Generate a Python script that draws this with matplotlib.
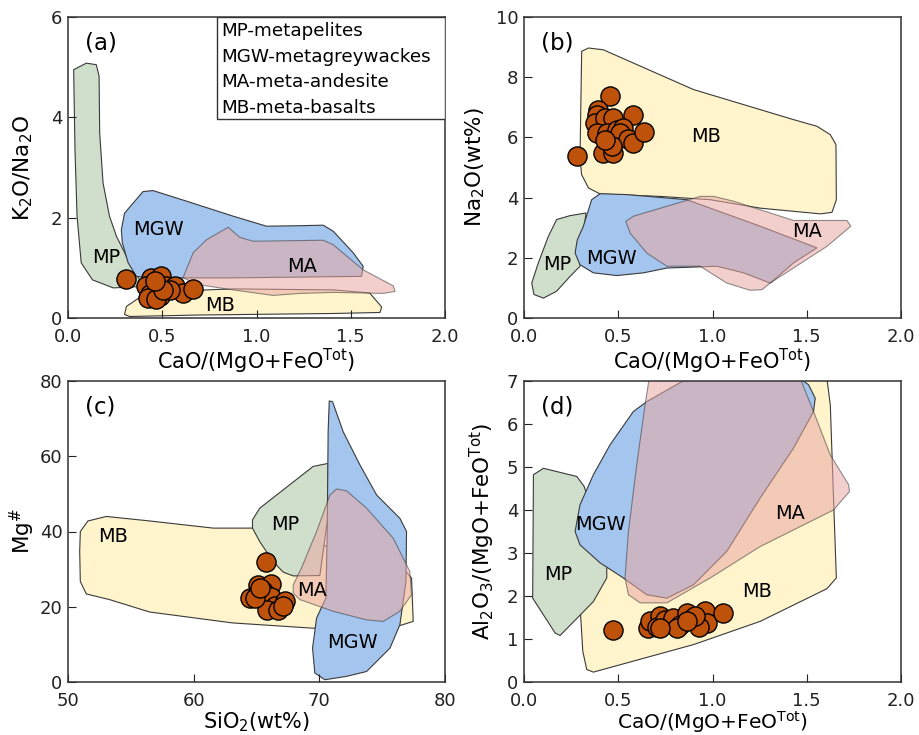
import matplotlib
matplotlib.use("Agg")
import matplotlib.pyplot as plt
from matplotlib.patches import Polygon, Rectangle

plt.rcParams['font.family'] = ['DejaVu Sans']
plt.rcParams['mathtext.fontset'] = 'dejavusans'

# colours of the fields
c_mp = '#cfdfcb'
c_mgw = '#a3c5ee'
c_ma = '#e9a9a3'
c_mb = '#fff4cc'
c_dot = '#bf520a'

# ---- panel (a): CaO/(MgO+FeOt) vs K2O/Na2O ----
a_mp = [(0.03, 4.95), (0.097, 5.08), (0.15, 5.05), (0.165, 4.82), (0.168, 3.69), (0.186, 2.69),
        (0.22, 2.03), (0.257, 1.63), (0.31, 1.23), (0.38, 0.76), (0.40, 0.63), (0.24, 0.60),
        (0.13, 0.76), (0.07, 1.10), (0.048, 2.03), (0.037, 3.36)]
a_mgw = [(0.30, 2.09), (0.398, 2.52), (0.451, 2.54), (0.628, 2.33), (0.876, 2.03), (1.053, 1.83),
         (1.23, 1.84), (1.354, 1.85), (1.407, 1.73), (1.513, 1.30), (1.566, 1.03), (1.557, 0.83),
         (0.876, 0.80), (0.434, 0.80), (0.363, 0.83), (0.319, 1.10), (0.288, 1.50), (0.283, 1.76)]
a_ma = [(0.61, 0.80), (0.664, 1.30), (0.735, 1.56), (0.85, 1.81), (0.91, 1.61), (0.982, 1.53),
        (1.354, 1.55), (1.407, 1.46), (1.566, 0.96), (1.726, 0.64), (1.735, 0.53), (1.673, 0.49),
        (1.407, 0.51), (1.23, 0.49), (1.088, 0.45), (0.876, 0.56), (0.70, 0.66)]
a_mb = [(0.30, 0.07), (0.31, 0.23), (0.38, 0.41), (0.52, 0.53), (0.876, 0.58), (1.407, 0.56),
        (1.60, 0.50), (1.664, 0.22), (1.655, 0.11), (1.407, 0.09), (0.70, 0.06), (0.327, 0.03)]
a_x = [0.31, 0.442, 0.496, 0.451, 0.416, 0.469, 0.434, 0.487, 0.425, 0.469, 0.522, 0.566,
       0.61, 0.664, 0.54, 0.504, 0.46]
a_y = [0.78, 0.80, 0.83, 0.66, 0.63, 0.62, 0.47, 0.43, 0.40, 0.37, 0.63, 0.64,
       0.50, 0.58, 0.56, 0.55, 0.73]

# ---- panel (b): CaO/(MgO+FeOt) vs Na2O ----
b_mb = [(0.306, 8.86), (0.342, 8.97), (0.421, 8.91), (0.899, 7.59), (1.43, 6.59), (1.554, 6.37),
        (1.625, 6.09), (1.655, 5.76), (1.657, 3.93), (1.634, 3.51), (1.572, 3.46), (1.253, 3.65),
        (0.988, 3.93), (0.722, 4.04), (0.404, 4.12), (0.342, 4.32), (0.306, 4.76), (0.297, 5.26)]
b_mp = [(0.173, 3.27), (0.244, 3.40), (0.329, 3.49), (0.315, 2.82), (0.297, 1.72), (0.244, 1.38),
        (0.173, 0.89), (0.103, 0.66), (0.053, 0.78), (0.041, 1.16), (0.076, 1.83), (0.129, 2.71)]
b_mgw = [(0.404, 4.13), (0.545, 4.10), (0.864, 3.93), (1.253, 3.05), (1.554, 2.33), (1.43, 1.83),
         (1.306, 1.16), (1.165, 1.50), (1.023, 1.72), (0.758, 1.66), (0.634, 1.50), (0.492, 1.41),
         (0.368, 1.50), (0.297, 1.77), (0.271, 2.16), (0.283, 2.60), (0.315, 3.05), (0.359, 3.93)]
b_ma = [(0.54, 3.21), (0.58, 3.38), (0.934, 4.04), (1.006, 4.04), (1.112, 3.88), (1.43, 3.24),
        (1.713, 3.24), (1.734, 3.05), (1.607, 2.38), (1.306, 1.16), (1.262, 0.94), (1.20, 0.92),
        (1.076, 1.16), (0.934, 1.72), (0.758, 1.72), (0.651, 2.16), (0.563, 2.82)]
b_x = [0.28, 0.457, 0.395, 0.386, 0.377, 0.43, 0.474, 0.577, 0.386, 0.439, 0.492, 0.527,
       0.51, 0.554, 0.58, 0.634, 0.421, 0.474, 0.466, 0.43]
b_y = [5.39, 7.36, 6.92, 6.76, 6.48, 6.64, 6.64, 6.73, 6.15, 6.15, 6.26, 6.31,
       6.15, 5.95, 5.81, 6.17, 5.48, 5.48, 5.70, 5.92]

# ---- panel (c): SiO2 vs Mg# ----
c_mb_f = [(50.98, 40.0), (51.59, 42.8), (53.05, 44.0), (56.5, 42.8), (61.55, 40.9), (64.73, 40.9),
          (76.4, 31.2), (77.34, 27.6), (77.47, 16.1), (76.41, 15.0), (69.5, 14.3), (63.1, 15.7),
          (56.5, 18.6), (53.3, 21.9), (51.46, 23.4), (50.98, 26.7), (50.93, 34.7)]
c_mp_f = [(64.68, 43.1), (65.26, 46.2), (69.51, 57.3), (70.7, 58.1), (70.7, 44.4), (70.04, 28.3),
          (67.92, 28.2), (67.12, 29.2), (66.33, 32.0), (65.26, 37.3), (64.68, 40.9)]
c_mgw_f = [(70.79, 74.7), (71.05, 74.5), (71.9, 66.5), (73.23, 57.7), (74.56, 49.7), (76.41, 43.5),
           (76.94, 40.0), (76.89, 26.7), (76.41, 15.2), (75.62, 9.0), (73.76, 2.8), (72.17, 1.5),
           (70.44, 0.6), (69.64, 2.4), (69.46, 9.0), (69.78, 17.0), (70.52, 22.3), (70.63, 40.0),
           (70.7, 66.5)]
c_ma_f = [(67.92, 25.8), (68.58, 30.3), (69.78, 40.0), (70.84, 49.7), (71.37, 51.3), (72.17, 50.8),
          (73.76, 46.2), (75.88, 38.2), (77.2, 29.4), (77.34, 23.2), (76.41, 18.8), (75.09, 16.1),
          (73.76, 16.5), (71.1, 18.8), (68.45, 21.9), (67.92, 23.6)]
c_x = [65.72, 65.13, 66.19, 64.47, 65.0, 65.53, 65.8, 66.19, 66.46, 65.8, 66.72, 67.26,
       67.12, 64.87, 65.26]
c_y = [31.8, 25.8, 26.0, 22.3, 23.2, 24.1, 22.3, 22.7, 20.1, 19.2, 19.2, 21.4,
       20.1, 22.3, 25.0]

# ---- panel (d): CaO/(MgO+FeOt) vs Al2O3/(MgO+FeOt) ----
d_mb = [(0.288, 2.42), (0.421, 3.50), (0.722, 5.44), (1.005, 7.14), (1.563, 7.14), (1.607, 7.06),
        (1.625, 6.44), (1.642, 4.28), (1.657, 2.42), (1.607, 2.17), (1.253, 1.41), (0.899, 0.87),
        (0.368, 0.23), (0.333, 0.29), (0.312, 0.71), (0.297, 1.80)]
d_mp = [(0.05, 4.82), (0.103, 4.97), (0.28, 4.78), (0.319, 4.55), (0.386, 3.66), (0.439, 2.80),
        (0.439, 2.42), (0.368, 1.87), (0.191, 1.08), (0.165, 1.14), (0.046, 1.95)]
d_mgw = [(0.271, 3.50), (0.297, 4.12), (0.368, 4.82), (0.457, 5.52), (0.58, 6.29), (0.651, 6.52),
         (0.899, 7.14), (1.43, 7.18), (1.51, 6.91), (1.545, 6.60), (1.536, 6.29), (1.43, 5.44),
         (1.253, 4.28), (1.076, 3.04), (0.899, 2.26), (0.758, 1.95), (0.651, 2.03), (0.527, 2.42),
         (0.404, 2.77), (0.297, 3.19)]
d_ma = [(0.664, 7.06), (1.465, 7.06), (1.536, 6.29), (1.625, 5.28), (1.722, 4.59), (1.727, 4.43),
        (1.642, 4.00), (1.253, 3.15), (0.988, 2.42), (0.758, 1.84), (0.616, 1.84), (0.554, 2.03),
        (0.536, 2.42), (0.554, 3.50), (0.598, 5.05), (0.642, 6.44)]
d_x = [0.471, 0.66, 0.667, 0.722, 0.704, 0.758, 0.75, 0.793, 0.828, 0.864, 0.899, 0.96,
       0.97, 0.926, 1.058, 0.908, 0.81, 0.722, 0.864]
d_y = [1.22, 1.25, 1.41, 1.53, 1.29, 1.41, 1.45, 1.49, 1.33, 1.60, 1.49, 1.65,
       1.37, 1.29, 1.60, 1.53, 1.25, 1.25, 1.41]

legend_lines = ['MP-metapelites', 'MGW-metagreywackes', 'MA-meta-andesite', 'MB-meta-basalts']

fig = plt.figure(figsize=(9.19, 7.35), dpi=100)
W, H = 919, 735
def axbox(l, t, r, b):
    return [l / W, (H - b) / H, (r - l) / W, (b - t) / H]

ax_a = fig.add_axes(axbox(68, 17, 445, 318))
ax_b = fig.add_axes(axbox(524, 17, 901, 318))
ax_c = fig.add_axes(axbox(68, 381, 445, 682))
ax_d = fig.add_axes(axbox(524, 381, 901, 682))

def field(ax, pts, col, alpha=1.0, z=1):
    ax.add_patch(Polygon(pts, closed=True, facecolor=col, edgecolor='#3a3a3a',
                         linewidth=0.8, alpha=alpha, joinstyle='round', zorder=z))

def style(ax, xlim, ylim, xticks, yticks, xlab, ylab, tag, ylab_x, xlab_y=-0.145, xlab_fs=15):
    ax.set_xlim(xlim)
    ax.set_ylim(ylim)
    ax.set_xticks(xticks)
    ax.set_yticks(yticks)
    ax.tick_params(direction='in', length=6, width=0.8, labelsize=13, colors='#222222')
    ax.tick_params(axis='x', pad=7)
    ax.tick_params(axis='y', pad=4)
    for s in ax.spines.values():
        s.set_linewidth(1.1)
        s.set_color('#333333')
    ax.set_xlabel(xlab, fontsize=xlab_fs)
    ax.set_ylabel(ylab, fontsize=15.5)
    ax.xaxis.set_label_coords(0.5, xlab_y)
    ax.xaxis.label.set_va('center')
    ax.yaxis.set_label_coords(ylab_x, 0.5)
    ax.yaxis.label.set_va('center')
    ax.text(0.045, 0.915, tag, transform=ax.transAxes, fontsize=16.5, va='center', ha='left')

def dots(ax, x, y):
    ax.scatter(x, y, s=190, facecolor=c_dot, edgecolor='black', linewidth=1.0, zorder=5)

def labels(ax, items):
    for t, x, y in items:
        ax.text(x, y, t, fontsize=13.9, ha='center', va='center', zorder=4)

xlab_ca = r'CaO/(MgO+FeO$^{\mathrm{Tot}}$)'
x_ticks = [0.0, 0.5, 1.0, 1.5, 2.0]
x_ticklab = ['0.0', '0.5', '1.0', '1.5', '2.0']

# (a)
field(ax_a, a_mp, c_mp)
field(ax_a, a_mb, c_mb)
field(ax_a, a_mgw, c_mgw)
field(ax_a, a_ma, c_ma, alpha=0.55)
dots(ax_a, a_x, a_y)
style(ax_a, (0, 2), (0, 6), x_ticks, [0, 2, 4, 6], xlab_ca, r'K$_\mathrm{2}$O/Na$_\mathrm{2}$O', '(a)', -0.12)
ax_a.set_xticklabels(x_ticklab)
ax_a.add_patch(Rectangle((0.395, 0.662), 0.605, 0.338, transform=ax_a.transAxes, facecolor='white',
                         edgecolor='#333333', linewidth=1.0, zorder=6))
for i, t in enumerate(legend_lines):
    ax_a.text(0.407, 0.953 - i * 0.085, t, transform=ax_a.transAxes, fontsize=13.2,
              va='center', ha='left', zorder=7)
labels(ax_a, [('MP', 0.204, 1.20), ('MGW', 0.478, 1.76), ('MA', 1.239, 1.03), ('MB', 0.805, 0.25)])

# (b)
field(ax_b, b_mb, c_mb)
field(ax_b, b_mp, c_mp)
field(ax_b, b_mgw, c_mgw)
field(ax_b, b_ma, c_ma, alpha=0.55)
dots(ax_b, b_x, b_y)
style(ax_b, (0, 2), (0, 10), x_ticks, [0, 2, 4, 6, 8, 10], xlab_ca, r'Na$_\mathrm{2}$O(wt%)', '(b)', -0.13)
ax_b.set_xticklabels(x_ticklab)
labels(ax_b, [('MP', 0.177, 1.77), ('MGW', 0.465, 1.99), ('MA', 1.50, 2.88), ('MB', 0.965, 6.04)])

# (c)
field(ax_c, c_mb_f, c_mb)
field(ax_c, c_mp_f, c_mp)
field(ax_c, c_mgw_f, c_mgw)
field(ax_c, c_ma_f, c_ma, alpha=0.55)
dots(ax_c, c_x, c_y)
style(ax_c, (50, 80), (0, 80), [50, 60, 70, 80], [0, 20, 40, 60, 80],
      r'SiO$_\mathrm{2}$(wt%)', r'Mg$^{\#}$', '(c)', -0.12, xlab_y=-0.135)
labels(ax_c, [('MB', 53.58, 38.7), ('MP', 67.26, 41.9), ('MA', 69.38, 24.2), ('MGW', 72.64, 10.4)])

# (d)
field(ax_d, d_mb, c_mb)
field(ax_d, d_mp, c_mp)
field(ax_d, d_mgw, c_mgw)
field(ax_d, d_ma, c_ma, alpha=0.55)
dots(ax_d, d_x, d_y)
style(ax_d, (0, 2), (0, 7), x_ticks, list(range(8)), xlab_ca,
      r'Al$_\mathrm{2}$O$_\mathrm{3}$/(MgO+FeO$^{\mathrm{Tot}}$)', '(d)', -0.11,
      xlab_y=-0.132, xlab_fs=14.5)
ax_d.set_xticklabels(x_ticklab)
labels(ax_d, [('MGW', 0.404, 3.66), ('MP', 0.182, 2.49), ('MA', 1.412, 3.93), ('MB', 1.235, 2.11)])

fig.savefig('out.png', dpi=100)
